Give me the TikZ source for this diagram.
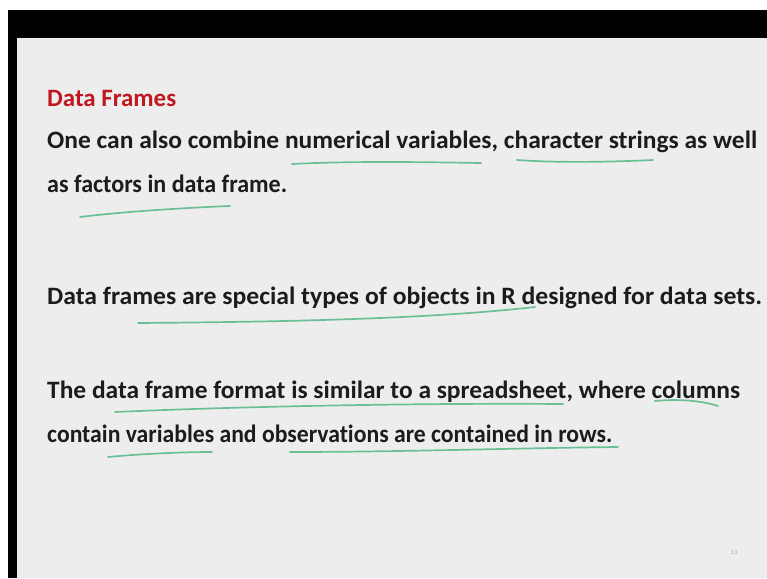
\documentclass[tikz,border=0pt]{standalone}
\usepackage{fontspec}
\setmainfont{Carlito}[Ligatures=NoCommon]
\usepackage{graphicx}
\usetikzlibrary{positioning}

\definecolor{slidegray}{HTML}{EDEDED}
\definecolor{titlered}{HTML}{C0181E}
\definecolor{textdark}{HTML}{1C1C1C}
\definecolor{inkgreen}{HTML}{5DBB8C}

% stretch a line of text to a given width, height kept
\newcommand{\fitline}[2]{\resizebox{#1}{\height}{#2}}

\begin{document}
\begin{tikzpicture}[
            x=1pt, y=-1pt,
            every node/.style={anchor=base west, inner sep=0pt, text=textdark,
                font=\fontsize{25}{29}\selectfont\bfseries},
            titletext/.style={text=titlered},
            ink/.style={draw=inkgreen, line width=1.7pt, line cap=round, opacity=0.9}
        ]
            \useasboundingbox (0,0) rectangle (767,578);

            % Рамка и фон слайда
            \fill[black] (8,10) rectangle (767,578);
            \fill[slidegray] (17,38) rectangle (767,578);

            % Текст
            \node[titletext] (title) at (47,106) {\fitline{129pt}{Data Frames}};
            \node (combine) at (47,148) {\fitline{710pt}{One can also combine numerical variables, character strings as well}};
            \node (factors) at (47,192) {\fitline{240pt}{as factors in data frame.}};
            \node (special) at (47,304) {\fitline{715pt}{Data frames are special types of objects in R designed for data sets.}};
            \node (format) at (47,398) {\fitline{693pt}{The data frame format is similar to a spreadsheet, where columns}};
            \node (rows) at (47,442) {\fitline{565pt}{contain variables and observations are contained in rows.}};
            \node[text=gray!70, font=\fontsize{6}{7}\selectfont] (pagenum) at (731,554) {13};

            % Подчёркивания
            \draw[ink] (292,164) .. controls (350,161) and (420,162) .. (481,163);
            \draw[ink] (517,160) .. controls (560,163) and (610,162) .. (653,160);
            \draw[ink] (80,217) .. controls (120,212) and (180,208) .. (230,206);
            \draw[ink] (138,323) .. controls (260,322) and (420,320) .. (535,307);
            \draw[ink] (115,412) .. controls (250,406) and (430,403) .. (563,404);
            \draw[ink] (655,401) .. controls (675,399) and (700,400) .. (718,406);
            \draw[ink] (108,457) .. controls (140,454) and (180,452) .. (212,452);
            \draw[ink] (290,452) .. controls (400,452) and (520,448) .. (618,447);
        \end{tikzpicture}
\end{document}
